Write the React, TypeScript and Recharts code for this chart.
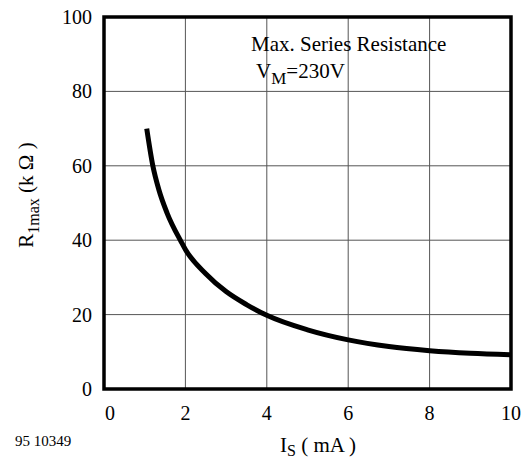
import React from 'react';
import { LineChart, Line, CartesianGrid, XAxis, YAxis, ReferenceArea, Customized } from 'recharts';

const current = [1.05, 1.2, 1.35, 1.55, 1.9, 2, 2.5, 3, 3.5, 4, 5, 6, 7, 8, 9, 10];
const resistance = [70, 60, 53.5, 47.3, 39.5, 37.5, 31, 26.2, 22.7, 19.8, 15.9, 13.2, 11.4, 10.3, 9.6, 9.2];
const xTicks = [0, 2, 4, 6, 8, 10];
const yTicks = [0, 20, 40, 60, 80, 100];

const FONT = "'Liberation Serif', 'Times New Roman', serif";

const data = current.map((x, i) => ({ x: x, r: resistance[i] }));

function XTick(props: any) {
	const { x, y, payload } = props;
	const shift = payload.value === 0 ? 6 : 0;
	return (
		<text x={x + shift} y={y + 29} textAnchor="middle" fontFamily={FONT} fontSize={20} fill="#000">
			{payload.value}
		</text>
	);
}

function YTick(props: any) {
	const { x, y, payload } = props;
	return (
		<text x={x - 10} y={y + 7} textAnchor="end" fontFamily={FONT} fontSize={20} fill="#000">
			{payload.value}
		</text>
	);
}

function Texts() {
	return (
		<g fill="#000" fontFamily={FONT}>
			<text x={251} y={51} fontSize={21}>Max. Series Resistance</text>
			<text x={256} y={78} fontSize={21}>
				V<tspan dy={6} fontSize={17}>M</tspan><tspan dy={-6}>=230V</tspan>
			</text>
			<text x={15} y={446} fontSize={15}>95 10349</text>
			<text x={318} y={452} textAnchor="middle" fontSize={21}>
				I<tspan dy={4} fontSize={16}>S</tspan><tspan dy={-4}> ( mA )</tspan>
			</text>
			<text x={33} y={195} textAnchor="middle" transform="rotate(-90, 33, 195)" fontSize={21}>
				R<tspan dy={6} fontSize={16}>1max</tspan><tspan dy={-6}> (k Ω )</tspan>
			</text>
		</g>
	);
}

export default function App() {
	return (
		<div style={{ position: 'absolute', left: 0, top: 0, background: '#fff' }}>
			<LineChart width={531} height={459} data={data} margin={{ top: 17, right: 20, bottom: 0, left: 0 }}>
				<CartesianGrid stroke="#555" strokeWidth={1} horizontalValues={yTicks} verticalValues={xTicks} />
				<XAxis
					dataKey="x"
					type="number"
					domain={[0, 10]}
					ticks={xTicks}
					height={70}
					axisLine={false}
					tickLine={false}
					tickSize={0}
					tick={<XTick />}
					interval={0}
				/>
				<YAxis
					type="number"
					domain={[0, 100]}
					ticks={yTicks}
					width={104}
					axisLine={false}
					tickLine={false}
					tickSize={0}
					tick={<YTick />}
					interval={0}
				/>
				<ReferenceArea x1={0} x2={10} y1={0} y2={100} fill="none" stroke="#000" strokeWidth={3.5} ifOverflow="visible" />
				<Line type="monotone" dataKey="r" stroke="#000" strokeWidth={5} dot={false} isAnimationActive={false} />
				<Customized component={Texts} />
			</LineChart>
		</div>
	);
}
